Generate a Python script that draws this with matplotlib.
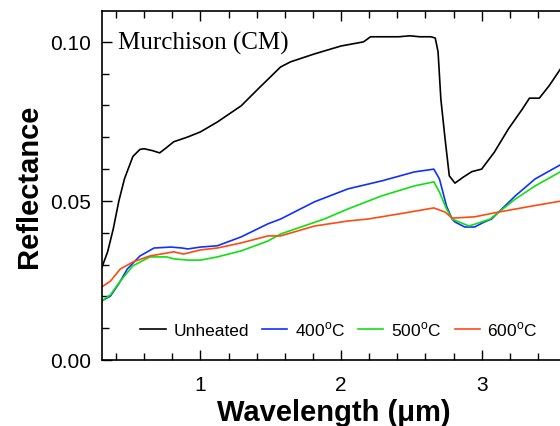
import matplotlib
matplotlib.use("Agg")
import matplotlib.pyplot as plt
from matplotlib.ticker import MultipleLocator, FormatStrFormatter

# Reflectance spectra of Murchison (CM)
wl_unheated = [0.30, 0.34, 0.38, 0.42, 0.46, 0.52, 0.57, 0.60, 0.66, 0.71, 0.76, 0.81, 0.91,
               1.00, 1.12, 1.29, 1.41, 1.57, 1.64, 1.81, 2.00, 2.16, 2.21, 2.41, 2.49,
               2.56, 2.64, 2.67, 2.69, 2.71, 2.74, 2.77, 2.81, 2.87, 2.93, 3.00, 3.09,
               3.19, 3.29, 3.34, 3.41, 3.48, 3.57, 3.60]
r_unheated = [0.0292, 0.0340, 0.0412, 0.0500, 0.0570, 0.0640, 0.0662, 0.0664, 0.0658, 0.0651,
              0.0668, 0.0686, 0.0701, 0.0717, 0.0748, 0.0799, 0.0852, 0.0921, 0.0937, 0.0962,
              0.0987, 0.1000, 0.1016, 0.1016, 0.1019, 0.1016, 0.1016, 0.1012, 0.0969, 0.0820,
              0.0695, 0.0579, 0.0556, 0.0575, 0.0592, 0.0600, 0.0653, 0.0726, 0.0789, 0.0823,
              0.0823, 0.0862, 0.0921, 0.0935]

wl_400 = [0.30, 0.36, 0.42, 0.48, 0.57, 0.67, 0.79, 0.87, 0.91, 1.00, 1.12, 1.29, 1.48,
          1.57, 1.81, 2.05, 2.29, 2.52, 2.66, 2.70, 2.75, 2.79, 2.81, 2.88, 2.95, 3.02,
          3.07, 3.24, 3.38, 3.57, 3.60]
r_400 = [0.0186, 0.0201, 0.0240, 0.0286, 0.0327, 0.0352, 0.0355, 0.0352, 0.0349, 0.0355,
         0.0359, 0.0387, 0.0428, 0.0443, 0.0497, 0.0538, 0.0563, 0.0591, 0.0600, 0.0569,
         0.0484, 0.0443, 0.0434, 0.0418, 0.0418, 0.0434, 0.0443, 0.0516, 0.0569, 0.0616,
         0.0622]

wl_500 = [0.30, 0.36, 0.43, 0.52, 0.64, 0.76, 0.81, 0.91, 1.00, 1.12, 1.29, 1.48, 1.57,
          1.88, 2.05, 2.29, 2.52, 2.66, 2.70, 2.75, 2.79, 2.84, 2.91, 3.00, 3.06, 3.24,
          3.38, 3.57, 3.60]
r_500 = [0.0186, 0.0205, 0.0248, 0.0296, 0.0324, 0.0324, 0.0318, 0.0314, 0.0314, 0.0324,
         0.0343, 0.0374, 0.0396, 0.0443, 0.0475, 0.0516, 0.0547, 0.0560, 0.0528, 0.0475,
         0.0443, 0.0434, 0.0421, 0.0434, 0.0443, 0.0506, 0.0547, 0.0594, 0.0600]

wl_600 = [0.30, 0.36, 0.43, 0.52, 0.64, 0.72, 0.81, 0.88, 1.00, 1.12, 1.29, 1.48, 1.57,
          1.81, 2.05, 2.19, 2.41, 2.66, 2.74, 2.79, 2.95, 3.12, 3.36, 3.57, 3.60]
r_600 = [0.0230, 0.0248, 0.0286, 0.0308, 0.0327, 0.0333, 0.0340, 0.0333, 0.0346, 0.0352,
         0.0368, 0.0390, 0.0390, 0.0421, 0.0437, 0.0443, 0.0459, 0.0478, 0.0465, 0.0446,
         0.0450, 0.0465, 0.0484, 0.0500, 0.0502]

labels = ["Unheated", "400$^\\mathrm{o}$C", "500$^\\mathrm{o}$C", "600$^\\mathrm{o}$C"]
colors = ["black", "#1030ff", "#10e010", "#ff4a10"]

plt.rcParams["font.family"] = ["Liberation Sans", "DejaVu Sans"]
plt.rcParams["mathtext.fontset"] = "custom"
plt.rcParams["mathtext.rm"] = "Liberation Sans"

fig = plt.figure(figsize=(5.6, 4.27), dpi=100)
# the original panel runs past the right edge of the picture
ax = fig.add_axes([102 / 560, 66 / 427, 464 / 560, 349 / 427])

series = [(wl_unheated, r_unheated), (wl_400, r_400), (wl_500, r_500), (wl_600, r_600)]
for (x, y), lab, c in zip(series, labels, colors):
    ax.plot(x, y, color=c, lw=1.2, label=lab)

ax.set_xlim(0.3, 3.6)
ax.set_ylim(0.0, 0.1097)
ax.xaxis.set_major_locator(MultipleLocator(1))
ax.xaxis.set_minor_locator(MultipleLocator(0.2))
ax.yaxis.set_major_locator(MultipleLocator(0.05))
ax.yaxis.set_minor_locator(MultipleLocator(0.01))
ax.yaxis.set_major_formatter(FormatStrFormatter("%.2f"))
ax.tick_params(which="both", direction="in", top=True, right=False, labelsize=15, width=1)
ax.tick_params(axis="y", pad=8)
ax.tick_params(axis="x", pad=11)
ax.tick_params(which="major", length=7)
ax.tick_params(which="minor", length=5)
ax.spines["right"].set_visible(False)
for s in ["left", "bottom", "top"]:
    ax.spines[s].set_linewidth(1.2)

ax.set_xlabel("Wavelength (\u03bcm)", fontsize=21, fontweight="bold", labelpad=3)
ax.set_ylabel("Reflectance", fontsize=21, fontweight="bold", labelpad=5)

ax.text(0.035, 0.911, "Murchison (CM)", transform=ax.transAxes, fontsize=18,
        family="Liberation Serif", va="center", ha="left")

ax.legend(loc="center", bbox_to_anchor=(0.511, 0.089), ncol=4, frameon=False,
          fontsize=12.5, handlelength=1.45, handletextpad=0.45, columnspacing=0.75,
          borderaxespad=0)

fig.savefig("out.png", dpi=100)
